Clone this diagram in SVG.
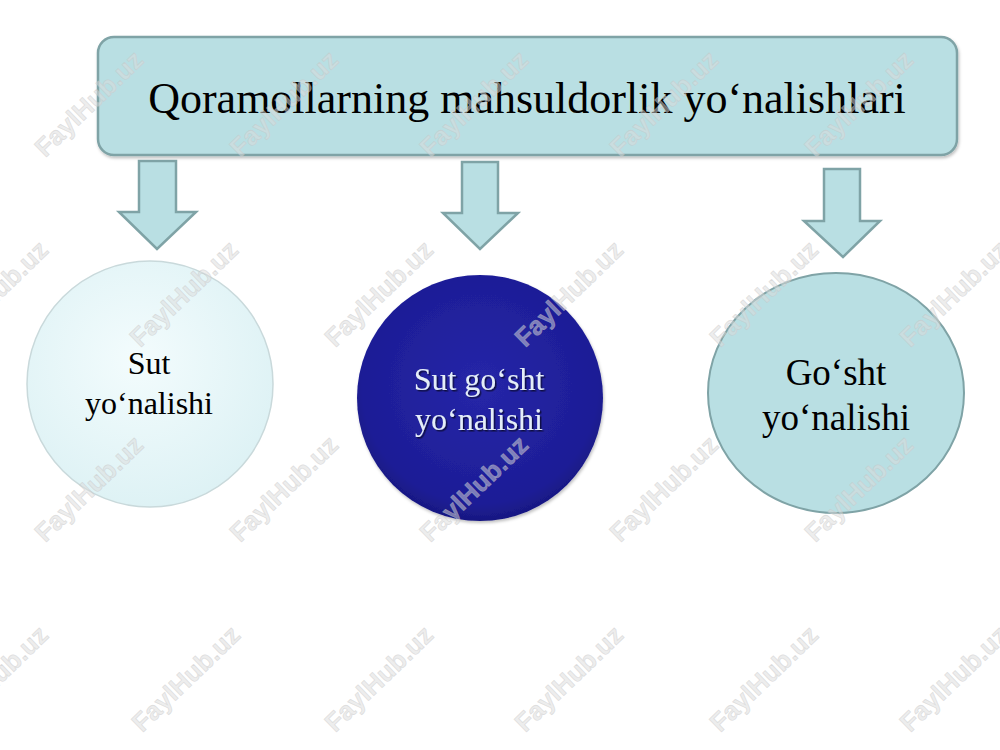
<svg xmlns="http://www.w3.org/2000/svg" width="1000" height="750" viewBox="0 0 1000 750">
  <defs>
    <style>
      .box { fill: #b9dfe3; stroke: #7fa3a6; stroke-width: 2.5; }
      .arrow { fill: #b9dfe3; stroke: #7fa3a6; stroke-width: 2.5; stroke-linejoin: miter; }
      .serif { font-family: "Liberation Serif", "Times New Roman", serif; text-anchor: middle; }
      .dark { fill: #000; }
      .light { fill: #e4eef8; }
      .wm { font-family: "Liberation Sans", Arial, sans-serif; font-weight: bold; font-size: 26px; text-anchor: middle; fill: #dcdcdc; fill-opacity: 0.5; stroke: #c4c4c4; stroke-opacity: 0.45; stroke-width: 0.8; }
    </style>
    <radialGradient id="gLight" cx="0.45" cy="0.4" r="0.65">
      <stop offset="0" stop-color="#f3fcfd"/>
      <stop offset="1" stop-color="#dcf1f4"/>
    </radialGradient>
    <radialGradient id="gBlue" cx="0.5" cy="0.45" r="0.6">
      <stop offset="0" stop-color="#2626a8"/>
      <stop offset="0.8" stop-color="#1d1d96"/>
      <stop offset="1" stop-color="#141472"/>
    </radialGradient>
    <filter id="shadow" x="-10%" y="-10%" width="120%" height="130%">
      <feDropShadow dx="1" dy="2" stdDeviation="1.5" flood-color="#000" flood-opacity="0.25"/>
    </filter>
    <filter id="tshadow" x="-5%" y="-20%" width="110%" height="140%">
      <feDropShadow dx="1.5" dy="1.5" stdDeviation="0.6" flood-color="#000" flood-opacity="0.6"/>
    </filter>
  </defs>

  <rect width="1000" height="750" fill="#ffffff"/>

  <g id="title">
    <rect class="box" x="98" y="37" width="859" height="118" rx="16" filter="url(#shadow)"/>
    <text class="serif dark" x="527" y="113" font-size="44">Qoramollarning mahsuldorlik yo‘nalishlari</text>
  </g>

  <g id="connectors">
    <polygon class="arrow" points="139,161 176,161 176,212 196,212 157,249 119,212 139,212"/>
    <polygon class="arrow" points="462,162 498,162 498,213 518,213 480,249 443,213 462,213"/>
    <polygon class="arrow" points="824,169 860,169 860,221 880,221 843,257 804,221 824,221"/>
  </g>

  <g id="node-sut">
    <circle cx="150" cy="384" r="123" fill="url(#gLight)" stroke="#c9d9db" stroke-width="1.5"/>
    <text class="serif dark" x="149" y="374" font-size="32">Sut</text>
    <text class="serif dark" x="149" y="414" font-size="32">yo‘nalishi</text>
  </g>

  <g id="node-sut-gosht">
    <circle cx="480" cy="398" r="123" fill="url(#gBlue)" filter="url(#shadow)"/>
    <text class="serif light" x="479" y="390" font-size="32" filter="url(#tshadow)">Sut go‘sht</text>
    <text class="serif light" x="479" y="430" font-size="32" filter="url(#tshadow)">yo‘nalishi</text>
  </g>

  <g id="node-gosht">
    <ellipse cx="836" cy="393" rx="128" ry="120" fill="#b9dfe3" stroke="#7fa3a6" stroke-width="2"/>
    <text class="serif dark" x="836" y="385" font-size="37">Go‘sht</text>
    <text class="serif dark" x="836" y="430" font-size="37">yo‘nalishi</text>
  </g>

  <g id="watermarks">
    <text class="wm" transform="translate(95,110) rotate(-44)">FaylHub.uz</text>
    <text class="wm" transform="translate(290,110) rotate(-44)">FaylHub.uz</text>
    <text class="wm" transform="translate(480,110) rotate(-44)">FaylHub.uz</text>
    <text class="wm" transform="translate(670,110) rotate(-44)">FaylHub.uz</text>
    <text class="wm" transform="translate(865,110) rotate(-44)">FaylHub.uz</text>

    <text class="wm" transform="translate(0,300) rotate(-44)">FaylHub.uz</text>
    <text class="wm" transform="translate(190,300) rotate(-44)">FaylHub.uz</text>
    <text class="wm" transform="translate(385,300) rotate(-44)">FaylHub.uz</text>
    <text class="wm" transform="translate(575,300) rotate(-44)">FaylHub.uz</text>
    <text class="wm" transform="translate(770,300) rotate(-44)">FaylHub.uz</text>
    <text class="wm" transform="translate(960,300) rotate(-44)">FaylHub.uz</text>

    <text class="wm" transform="translate(95,495) rotate(-44)">FaylHub.uz</text>
    <text class="wm" transform="translate(290,495) rotate(-44)">FaylHub.uz</text>
    <text class="wm" transform="translate(480,495) rotate(-44)">FaylHub.uz</text>
    <text class="wm" transform="translate(670,495) rotate(-44)">FaylHub.uz</text>
    <text class="wm" transform="translate(865,495) rotate(-44)">FaylHub.uz</text>

    <text class="wm" transform="translate(0,685) rotate(-44)">FaylHub.uz</text>
    <text class="wm" transform="translate(192,685) rotate(-44)">FaylHub.uz</text>
    <text class="wm" transform="translate(385,685) rotate(-44)">FaylHub.uz</text>
    <text class="wm" transform="translate(575,685) rotate(-44)">FaylHub.uz</text>
    <text class="wm" transform="translate(770,685) rotate(-44)">FaylHub.uz</text>
    <text class="wm" transform="translate(960,685) rotate(-44)">FaylHub.uz</text>
  </g>
</svg>
